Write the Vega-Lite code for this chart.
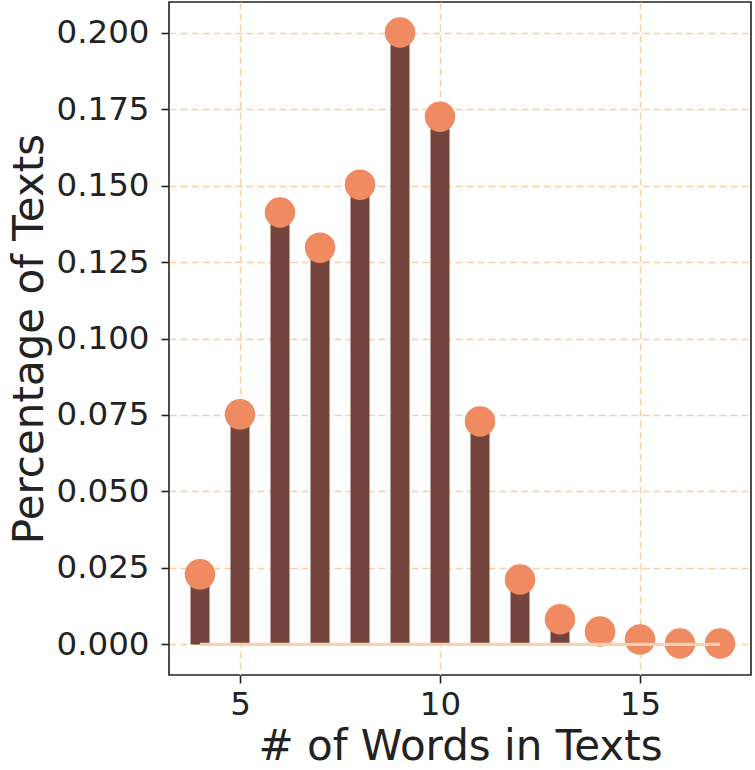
{
  "$schema": "https://vega.github.io/schema/vega-lite/v6.json",
  "autosize": "none",
  "width": 582,
  "height": 673,
  "padding": {"left": 169, "top": 2, "right": 4, "bottom": 95},
  "background": "white",
  "config": {
    "view": {"stroke": "#222222", "strokeWidth": 1.6},
    "font": "DejaVu Sans",
    "axis": {
      "labelFont": "DejaVu Sans",
      "titleFont": "DejaVu Sans",
      "labelFontSize": 32.5,
      "titleFontSize": 42,
      "titleFontWeight": "normal",
      "labelColor": "#222222",
      "titleColor": "#222222",
      "tickColor": "#222222",
      "tickSize": 8,
      "tickWidth": 1.6,
      "domain": false,
      "grid": true,
      "gridColor": "#f5cfa6",
      "gridDash": [7, 4],
      "gridWidth": 1.4
    }
  },
  "data": {
    "values": [
      {"words": 4, "pct": 0.0229},
      {"words": 5, "pct": 0.0752},
      {"words": 6, "pct": 0.1412},
      {"words": 7, "pct": 0.1297},
      {"words": 8, "pct": 0.1503},
      {"words": 9, "pct": 0.2},
      {"words": 10, "pct": 0.1725},
      {"words": 11, "pct": 0.0729},
      {"words": 12, "pct": 0.0212},
      {"words": 13, "pct": 0.0082},
      {"words": 14, "pct": 0.0042},
      {"words": 15, "pct": 0.0016},
      {"words": 16, "pct": 0.0003},
      {"words": 17, "pct": 0.0003}
    ]
  },
  "encoding": {
    "x": {
      "field": "words",
      "type": "quantitative",
      "scale": {"domain": [3.35, 17.65], "nice": false, "zero": false},
      "axis": {"values": [5, 10, 15], "title": "# of Words in Texts", "labelPadding": 5, "titlePadding": 6}
    }
  },
  "layer": [
    {
      "mark": {"type": "bar", "size": 19, "color": "#74453d"},
      "encoding": {
        "y": {
          "field": "pct",
          "type": "quantitative",
          "scale": {"domain": [-0.01, 0.21], "nice": false, "zero": false},
          "axis": {
            "values": [0, 0.025, 0.05, 0.075, 0.1, 0.125, 0.15, 0.175, 0.2],
            "format": ".3f",
            "title": "Percentage of Texts",
            "labelPadding": 12,
            "titlePadding": 4
          }
        },
        "y2": {"datum": 0}
      }
    },
    {
      "mark": {"type": "point", "shape": "circle", "filled": true, "size": 930, "color": "#f08a60", "opacity": 1},
      "encoding": {
        "y": {"field": "pct", "type": "quantitative"}
      }
    },
    {
      "mark": {"type": "rule", "color": "#f5d3ae", "strokeWidth": 3.3},
      "encoding": {
        "x": {"aggregate": "min", "field": "words", "type": "quantitative"},
        "x2": {"aggregate": "max", "field": "words"},
        "y": {"datum": 0, "type": "quantitative"}
      }
    }
  ]
}
